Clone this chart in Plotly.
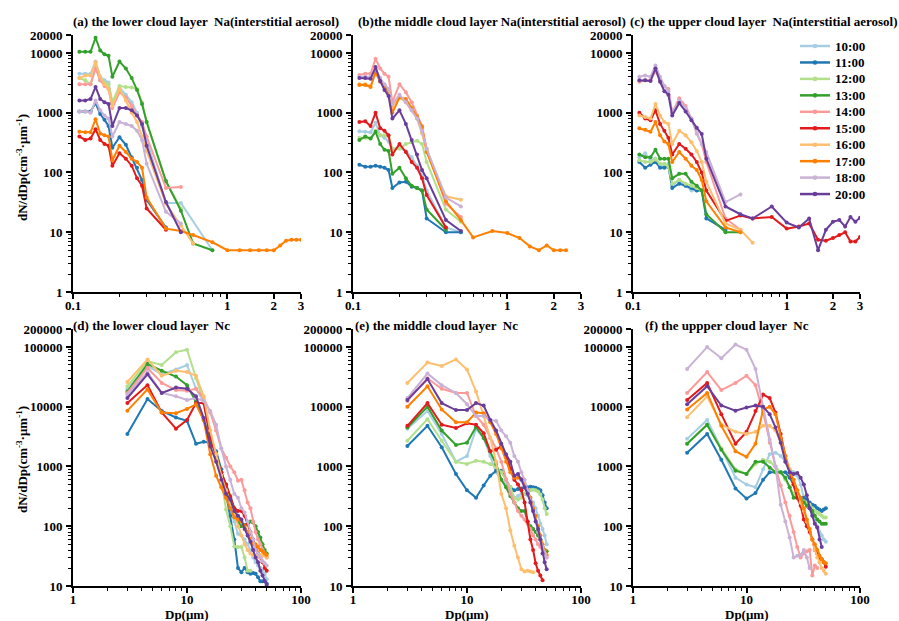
import plotly.graph_objects as go
import math

FONT = "Liberation Serif, Times New Roman, serif"

TIMES = ["10:00", "11:00", "12:00", "13:00", "14:00", "15:00", "16:00", "17:00", "18:00", "20:00"]
COLORS = ["#a6cee3", "#1f78b4", "#b2df8a", "#33a02c", "#fb9a99",
          "#e31a1c", "#fdbf6f", "#ff7f00", "#cab2d6", "#6a3d9a"]

# particle diameter bins (um)
DP_NA = [0.11, 0.12, 0.13, 0.14, 0.15, 0.16, 0.17, 0.18, 0.2, 0.22, 0.24, 0.26, 0.28, 0.3,
         0.4, 0.5, 0.6, 0.8, 1.0, 1.2, 1.4, 1.6, 1.8, 2.0, 2.2, 2.4, 2.6, 2.8, 3.0]
DP_NC = [3, 4.5, 6, 8, 10, 12, 14, 16, 18, 20, 22, 24, 26, 28, 30, 32, 34, 36, 38, 40,
         42, 44, 46, 48, 50]

# (a) lower cloud layer Na
A_1000 = [4500, 4500, 4500, 7200, 4000, 3500, 3200, 1400, 2600, 2000, 1500, 1000, 600, 350, 31, 31, None, 5]
A_1100 = [1050, 1050, 1050, 1450, 950, 760, 600, 260, 390, 290, 180, 120, 75, 35, 12]
A_1200 = [3800, 3500, 3000, 6000, 3500, 3200, 3000, 1500, 2800, 2700, 2650, 2500, 1500, 700, 70, 25]
A_1300 = [10500, 10500, 10500, 18000, 11000, 9500, 9000, 4000, 7200, 5500, 3800, 2400, 1400, 700, 72, 23, 6.5, 5]
A_1400 = [3000, 3000, 3000, 5500, 3500, 2800, 2500, 1200, 2200, 1800, 1300, 900, 700, 400, 55, 57]
A_1500 = [400, 350, 370, 530, 350, 300, 280, 130, 210, 170, 130, 80, 60, 25, 11]
A_1600 = [3800, 4200, 4200, 7000, 4000, 3000, 2500, 1300, 2500, 1600, 1000, 700, 400, 230, 30, 13, 6.5]
A_1700 = [480, 470, 470, 780, 450, 420, 400, 160, 280, 220, 170, 150, 120, 38, 11.5, 10.5, 9, 6.8,
          5, 5, 5, 5, 5, 5, 6, 7.2, 7.5, 7.5, 7.5]
A_1800 = [1050, 1050, 1000, 1600, 1100, 900, 800, 400, 700, 650, 600, 500, 350, 140, 22, 14]
A_2000 = [1600, 1600, 1700, 2700, 1700, 1500, 1400, 600, 1200, 1200, 1100, 900, 650, 280, 32, 10]

# (b) middle cloud layer Na
B_1000 = [490, 480, 470, 680, 420, 380, 330, 250, 260, 230, 180, 130, 90, 50, 12, 10]
B_1100 = [135, 125, 125, 130, 125, 120, 110, 55, 68, 70, 58, 55, 50, 17, 10, 10]
B_1200 = [380, 380, 370, 500, 420, 420, 400, 250, 250, 300, 320, 340, 300, 150, 24, 15]
B_1300 = [350, 400, 370, 480, 300, 240, 230, 95, 120, 80, 60, 55, 50, 24, 11]
B_1400 = [4300, 4500, 4500, 8000, 5500, 4500, 4000, 1500, 3000, 2200, 1500, 900, 600, 250, 30, 18]
B_1500 = [700, 720, 600, 1000, 550, 500, 420, 200, 300, 220, 150, 120, 80, 42, 12]
B_1600 = [3000, 3000, 2800, 4500, 3500, 2800, 2300, 1300, 1800, 1500, 1100, 800, 450, 230, 40, 35]
B_1700 = [2900, 2900, 2700, 4800, 3300, 2800, 2200, 1000, 1800, 1700, 1200, 850, 580, 220, 33, 16,
          8.2, 10.5, 9.7, 8, 5.8, 5, 6, 5, 5, 5]
B_1800 = [4000, 4000, 4000, 5500, 3800, 3000, 2500, 1400, 2000, 1500, 1100, 800, 500, 250, 38, 27]
B_2000 = [3800, 3800, 3700, 5800, 3400, 2400, 1900, 800, 1100, 650, 350, 200, 110, 80, 16, 10.5]

# (c) upper cloud layer Na
C_1000 = [180, 210, 160, 170, 130, 125, 140, 60, 75, 60, 50, 50]
C_1100 = [150, 120, 135, 150, 120, 120, 125, 55, 65, 60, 55, 50, 50, 17, 11]
C_1200 = [160, 150, 150, 165, 140, 140, 125, 65, 75, 65, 60, 55, 50]
C_1300 = [200, 180, 180, 240, 170, 170, 170, 80, 95, 95, 70, 60, 50, 20, 10, 10]
C_1400 = [3300, 3500, 3500, 5000, 3500, 2800, 2500, 1000, 1750, 1300, 800, 450, 300, 150, 17, 11]
C_1500 = [1000, 800, 750, 1100, 650, 500, 380, 200, 300, 250, 200, 150, 100, 50, 15.5, 19, 17, 18,
          11.5, 12.5, 14, 7.5, 7.2, 8, 9, 10, 7, 7, 8.3]
C_1600 = [900, 850, 800, 1400, 900, 700, 650, 300, 500, 420, 320, 230, 150, 70, 14, 11, 6.7]
C_1700 = [550, 520, 480, 700, 420, 330, 300, 150, 220, 170, 130, 110, 75, 33, 12, 10]
C_1800 = [4000, 4200, 4000, 6200, 4000, 2800, 2300, 1000, 1600, 1200, 800, 450, 300, 220, 32, 43]
C_2000 = [3500, 3500, 3400, 5500, 3300, 2300, 2000, 900, 1450, 1050, 750, 560, 440, 170, 27, 20, 17, 27,
          14.5, 12, 17, 5, 11, 15, 16, 12.5, 18, 15, 17.5]

# (d) lower cloud layer Nc
D_1000 = [20000, 48000, 35000, 42000, 50000, 20000, 12000, 3000, 1500, 800, 400, 180, 120, 75, 70, 60,
          50, 40, 30, 25, 22, 20, 18, 16, 13]
D_1100 = [3500, 13500, 8500, 6600, 5800, 2400, 2600, 2500, 1800, 900, 350, 150, 60, 20, 17, 20, 17, 16,
          16.5, 16, 14, 12, 12, 12, 11]
D_1200 = [22000, 58000, 50000, 82000, 90000, 30000, 12000, 3500, 1500, 600, 190, 100, 46, 45, 45, 30, 18, 18]
D_1300 = [18000, 52000, 40000, 32000, 23000, 12000, 6000, 3000, 1600, 800, 500, 320, 200, 120, 100, 105,
          110, 120, 115, 100, 80, 65, 50, 40, 35]
D_1400 = [17000, 45000, 25000, 19000, 18500, 20000, 14000, 8000, 4000, 2000, 1400, 1000, 800, 580, 600,
          400, 250, 200, 120, 80, 60, 50, 40, 35, 30]
D_1500 = [11500, 23000, 8000, 4300, 6000, 11500, 11500, 3000, 1500, 800, 500, 300, 200, 180, 180, 150,
          110, 80, 60, 45, 35, 30, 25, 20, 18]
D_1600 = [26000, 62000, 33000, 40000, 38000, 33000, 15000, 4000, 1600, 700, 400, 250, 150, 100, 70, 50,
          40, 35, 33, 32, 32, 33, 33, 32, 30]
D_1700 = [8600, 19500, 8000, 7800, 9200, 11000, 6000, 1600, 700, 450, 300, 200, 140, 130, 120, 100, 80,
          60, 50, 50, 45, 40, 38, 35, 33]
D_1800 = [16000, 38000, 17000, 15000, 13000, 14000, 12500, 8500, 5000, 2000, 1000, 600, 350, 300, 200,
          170, 120, 80, 60, 40, 35, 30, 26, 24, 22]
D_2000 = [14000, 35000, 17000, 21000, 20000, 15000, 6500, 2200, 1200, 600, 350, 280, 180, 150, 130, 90,
          70, 55, 40, 30, 25, 18, 15, 12, 10.5]

# (e) middle cloud layer Nc
E_1000 = [4300, 8500, 3500, 1200, 1500, 4200, 3000, 1500, 800, 600, 500, 400, 300, 320, 350, 350, 330,
          300, 250, 200, 150, 110, 90, 70, 50]
E_1100 = [2200, 4800, 2100, 750, 400, 300, 480, 700, 850, 850, 600, 450, 400, 420, 430, 450, 450, 460,
          450, 440, 420, 400, 330, 250, 200]
E_1200 = [2700, 6200, 2700, 1200, 1100, 1250, 1200, 1100, 1000, 800, 600, 450, 300, 280, 300, 350, 380,
          400, 410, 400, 380, 340, 280, 200, 160]
E_1300 = [4500, 10000, 4000, 2300, 2500, 4600, 3000, 1800, 1100, 600, 450, 320, 250, 200, 180, 180, 120,
          100, 90, 80, 70, 60, 45, 40, 38]
E_1400 = [12500, 30000, 20000, 17000, 17000, 7000, 5000, 3000, 2000, 1200, 600, 350, 250, 180, 150, 130,
          110, 90, 70, 60, 50, 45, 40, 35, 30]
E_1500 = [4800, 11500, 5000, 4400, 5300, 5000, 3600, 1800, 1900, 2200, 1500, 900, 600, 500, 400, 250,
          120, 60, 40, 24, 18, 15, 12.5]
E_1600 = [25000, 55000, 48000, 62000, 42000, 18000, 7000, 3000, 1200, 350, 200, 85, 47, 30, 19, 17.5,
          18, 17.5, 17]
E_1700 = [10000, 22000, 9000, 5500, 5500, 8000, 7800, 5500, 3500, 2000, 1200, 800, 650, 650, 620, 500,
          400, 300, 200, 150, 100, 70, 50, 40, 33]
E_1800 = [14000, 36000, 23000, 17000, 11000, 7000, 7000, 6000, 5800, 4000, 3200, 2500, 1500, 1200, 800,
          600, 400, 250, 180, 120, 80, 60, 45, 35, 30]
E_2000 = [13000, 29000, 11500, 8800, 8800, 11500, 10500, 6000, 4000, 2400, 1600, 1200, 700, 750, 600,
          450, 350, 250, 180, 120, 90, 60, 35, 25, 19]

# (f) upper cloud layer Nc
F_1000 = [2900, 6000, 2000, 650, 500, 450, 900, 1600, 1700, 1500, 1200, 900, 800, 700, 500, 300, 250,
          200, 150, 120, 100, 80, 70, 60, 55]
F_1100 = [1700, 3500, 1300, 430, 290, 360, 600, 800, 800, 800, 800, 650, 500, 350, 300, 300, 280, 250,
          230, 220, 200, 190, 180, 190, 200]
F_1200 = [2400, 5000, 2000, 900, 750, 1100, 1300, 1200, 1000, 800, 600, 450, 350, 300, 280, 260, 250,
          230, 200, 180, 170, 160, 150, 140, 140]
F_1300 = [2400, 5000, 1900, 850, 750, 1200, 1200, 950, 800, 800, 650, 450, 300, 300, 280, 250, 220, 200,
          180, 150, 130, 120, 110, 110, 110]
F_1400 = [17000, 38000, 19000, 25000, 33000, 23000, 8000, 2500, 1000, 480, 250, 150, 80, 45, 30, 35, 38,
          40, 15, 22, 20]
F_1500 = [13000, 25000, 7500, 2400, 3800, 8500, 16000, 14000, 8000, 3500, 1500, 800, 500, 300, 220, 130,
          100, 80, 60, 40, 35, 30, 28, 25, 21]
F_1600 = [6700, 15000, 5000, 3800, 3500, 3800, 4800, 4800, 4000, 2500, 1500, 900, 600, 400, 250, 180, 120,
          90, 60, 40, 30, 25, 20, 18, 16]
F_1700 = [9000, 17000, 4800, 1800, 1450, 2400, 9000, 10000, 7500, 3000, 1500, 800, 600, 400, 300, 200,
          130, 90, 60, 50, 40, 32, 28, 25, 24]
F_1800 = [43000, 100000, 65000, 110000, 90000, 43000, 10000, 2800, 1000, 230, 120, 65, 30, 32, 33, 40,
          30, 20]
F_2000 = [11000, 22000, 10500, 8600, 9700, 10500, 10000, 7500, 4500, 2500, 1200, 800, 750, 780, 650, 500,
          330, 200, 150, 110, 95, 60, 45]

PANELS = [
    (DP_NA, [A_1000, A_1100, A_1200, A_1300, A_1400, A_1500, A_1600, A_1700, A_1800, A_2000]),
    (DP_NA, [B_1000, B_1100, B_1200, B_1300, B_1400, B_1500, B_1600, B_1700, B_1800, B_2000]),
    (DP_NA, [C_1000, C_1100, C_1200, C_1300, C_1400, C_1500, C_1600, C_1700, C_1800, C_2000]),
    (DP_NC, [D_1000, D_1100, D_1200, D_1300, D_1400, D_1500, D_1600, D_1700, D_1800, D_2000]),
    (DP_NC, [E_1000, E_1100, E_1200, E_1300, E_1400, E_1500, E_1600, E_1700, E_1800, E_2000]),
    (DP_NC, [F_1000, F_1100, F_1200, F_1300, F_1400, F_1500, F_1600, F_1700, F_1800, F_2000]),
]

TITLES = [
    "(a) the lower cloud layer  Na(interstitial aerosol)",
    "(b)the middle cloud layer Na(interstitial aerosol)",
    "(c) the upper cloud layer  Na(interstitial aerosol)",
    "(d) the lower cloud layer  Nc",
    "(e) the middle cloud layer  Nc",
    "(f) the uppper cloud layer  Nc",
]

W, H = 899, 621
COLS_PX = [(73, 301), (353, 581), (633, 860)]
ROWS_PX = [(35, 292), (329, 586)]

fig = go.Figure()

for p, (xs, series) in enumerate(PANELS):
    ax = "" if p == 0 else str(p + 1)
    for i, vals in enumerate(series):
        fig.add_trace(go.Scatter(
            x=xs[:len(vals)], y=vals, mode="lines+markers",
            name=TIMES[i], showlegend=False, connectgaps=True,
            line=dict(color=COLORS[i], width=2),
            marker=dict(color=COLORS[i], size=4),
            xaxis="x" + ax, yaxis="y" + ax,
        ))

BOLD = dict(family=FONT, size=13, color="black", weight="bold")


def minor_vals(lo_dec, hi_dec):
    out = []
    for d in range(lo_dec, hi_dec + 1):
        for m in range(2, 10):
            out.append(m * 10 ** d)
    return out


layout = {}
for p in range(6):
    r, c = divmod(p, 3)
    ax = "" if p == 0 else str(p + 1)
    x0, x1 = COLS_PX[c]
    y0, y1 = ROWS_PX[r]
    xdom = [x0 / W, x1 / W]
    ydom = [1 - y1 / H, 1 - y0 / H]
    if r == 0:
        xr = [-1, math.log10(3)]
        xtv, xtt = [0.1, 1, 2, 3], ["0.1", "1", "2", "3"]
        xmin = minor_vals(-1, 0)
        yr = [0, math.log10(20000)]
        ytv = [1, 10, 100, 1000, 10000, 20000]
        ymin = minor_vals(0, 3)
    else:
        xr = [0, 2]
        xtv, xtt = [1, 10, 100], ["1", "10", "100"]
        xmin = minor_vals(0, 1)
        yr = [1, math.log10(200000)]
        ytv = [10, 100, 1000, 10000, 100000, 200000]
        ymin = minor_vals(1, 4)
    common = dict(type="log", showline=True, linecolor="black", linewidth=2,
                  ticks="outside", ticklen=5, tickwidth=1.5, tickcolor="black",
                  showgrid=False, zeroline=False, automargin=False, tickfont=BOLD)
    layout["xaxis" + ax] = dict(common, domain=xdom, range=xr, tickmode="array",
                                tickvals=xtv, ticktext=xtt, anchor="y" + ax, ticklabelstandoff=-5,
                                minor=dict(tickmode="array", tickvals=xmin, ticks="outside",
                                           ticklen=3, tickwidth=1, tickcolor="black", showgrid=False))
    layout["yaxis" + ax] = dict(common, domain=ydom, range=yr, tickmode="array",
                                tickvals=ytv, ticktext=[str(v) for v in ytv], anchor="x" + ax,
                                ticklabelstandoff=1,
                                minor=dict(tickmode="array", tickvals=ymin, ticks="outside",
                                           ticklen=3, tickwidth=1, tickcolor="black", showgrid=False))

annotations = []
shapes = []
title_x = [71, 356, 628, 71, 353, 643]
title_y = [21, 21, 21, 325, 325, 325]
for p in range(6):
    annotations.append(dict(text=TITLES[p], x=title_x[p] / W, y=1 - title_y[p] / H,
                            xref="paper", yref="paper", xanchor="left", yanchor="middle",
                            showarrow=False, font=BOLD))
ylab = "dN/dDp(cm<sup>-3</sup>·μm<sup>-1</sup>)"
for yc in [168, 460]:
    annotations.append(dict(text=ylab, x=22 / W, y=1 - yc / H, xref="paper", yref="paper",
                            xanchor="center", yanchor="middle", textangle=-90, showarrow=False,
                            font=BOLD))
for xc in [186, 466, 746]:
    annotations.append(dict(text="Dp(μm)", x=xc / W, y=1 - 614 / H, xref="paper", yref="paper",
                            xanchor="center", yanchor="middle", showarrow=False, font=BOLD))

# legend (drawn in panel c, compact spacing as in the original)
LEG_X0, LEG_X1, LEG_TEXT_X, LEG_Y0, LEG_DY = 800, 830, 833, 46, 16.45
for i, (t, col) in enumerate(zip(TIMES, COLORS)):
    yy = 1 - (LEG_Y0 + i * LEG_DY) / H
    shapes.append(dict(type="line", xref="paper", yref="paper", x0=LEG_X0 / W, x1=LEG_X1 / W,
                       y0=yy, y1=yy, line=dict(color=col, width=2.5)))
    shapes.append(dict(type="circle", xref="paper", yref="paper",
                       x0=(815 - 2.3) / W, x1=(815 + 2.3) / W, y0=yy - 2.3 / H, y1=yy + 2.3 / H,
                       fillcolor=col, line=dict(color=col, width=0)))
    annotations.append(dict(text=t, x=LEG_TEXT_X / W, y=yy, xref="paper", yref="paper",
                            xanchor="left", yanchor="middle", showarrow=False, font=BOLD))

fig.update_layout(
    width=W, height=H,
    margin=dict(l=0, r=0, t=0, b=0),
    paper_bgcolor="white", plot_bgcolor="white",
    showlegend=False,
    annotations=annotations,
    shapes=shapes,
    **layout,
)

fig.write_html("out.html", config={"displayModeBar": False},
               post_script="document.body.style.margin='0px';")
